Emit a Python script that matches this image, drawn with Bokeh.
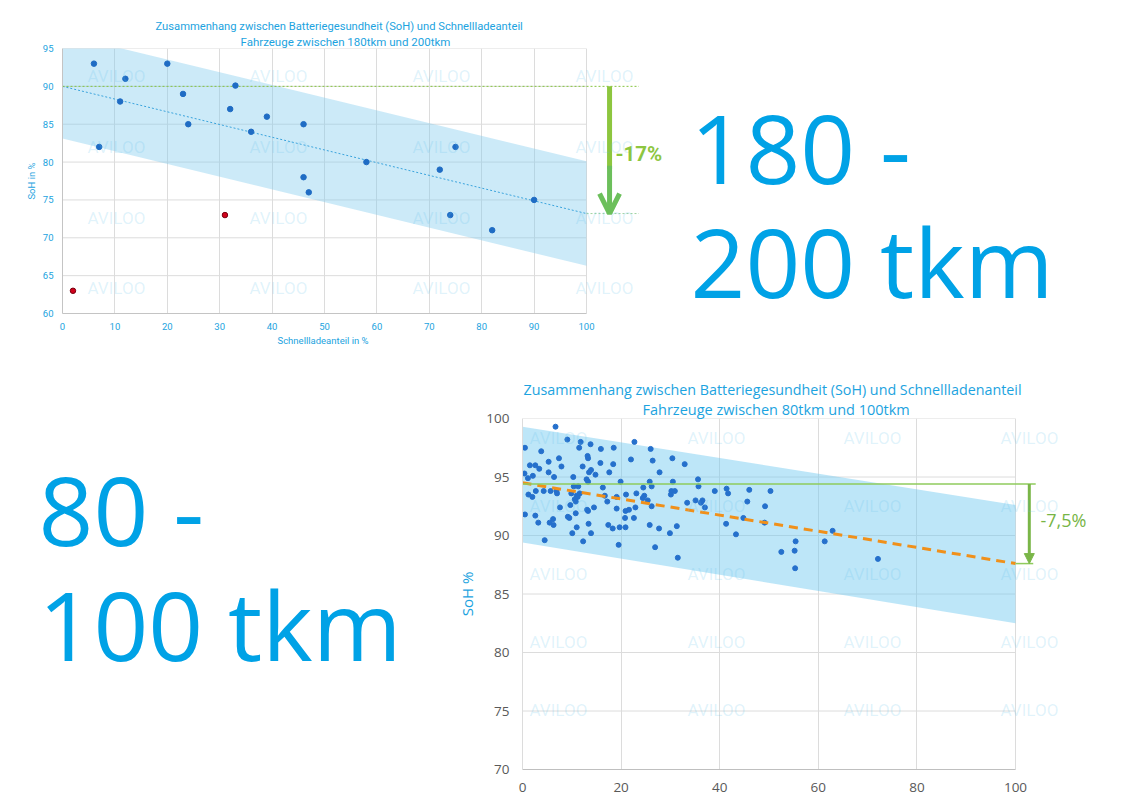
from bokeh.plotting import figure
from bokeh.layouts import row
from bokeh.models import FixedTicker, Label, Arrow, OpenHead, NormalHead, Range1d, Title
from bokeh.embed import file_html
from bokeh.resources import INLINE
from bokeh.core.properties import value

# ================= DATA: upper chart (180 - 200 tkm) =================
top_title = ["Zusammenhang zwischen Batteriegesundheit (SoH) und Schnellladeanteil",
             "Fahrzeuge zwischen 180tkm und 200tkm"]
top_fast_share = [6, 12, 20, 11, 23, 24, 33, 32, 36, 39, 46, 7, 46, 47, 58, 72, 75, 74, 82, 90]
top_soh = [93, 91, 93, 88, 89, 85, 90.1, 87, 84, 86, 85, 82, 78, 76, 80, 79, 82, 73, 71, 75]
top_out_share = [31, 2]
top_out_soh = [73, 63]
top_trend_x = [0, 100]
top_trend_soh = [90.0, 73.2]
top_band_upper = [96.9, 80.1]
top_band_lower = [83.1, 66.3]
top_drop_label = "-17%"
top_xticks = [0, 10, 20, 30, 40, 50, 60, 70, 80, 90, 100]
top_yticks = [60, 65, 70, 75, 80, 85, 90, 95]
top_xlabel = "Schnellladeanteil in %"
top_ylabel = "SoH in %"
top_big = ["180 -", "200 tkm"]

# ================= DATA: lower chart (80 - 100 tkm) =================
bot_title = ["Zusammenhang zwischen Batteriegesundheit (SoH) und Schnellladenanteil",
             "Fahrzeuge zwischen 80tkm und 100tkm"]
bot_fast_share = [6.7, 9.1, 11.8, 11.5, 13.8, 0.5, 3.8, 7.4, 13.2, 13.3,
                  15.9, 18.5, 22.7, 26.0, 22.0, 26.4, 30.4, 32.9, 5.3, 1.5,
                  2.6, 3.4, 7.9, 12.2, 13.5, 13.9, 14.8, 18.4, 15.8, 17.6,
                  27.8, 0.4, 1.1, 2.1, 5.3, 6.4, 10.3, 13.0, 13.3, 19.9,
                  25.8, 30.5, 26.2, 10.4, 11.3, 16.3, 24.5, 1.2, 2.0, 2.7,
                  4.3, 5.7, 6.9, 7.0, 9.9, 11.0, 10.6, 11.2, 10.8, 11.6,
                  16.7, 19.1, 21.0, 23.1, 24.7, 24.4, 25.4, 30.2, 30.9, 30.1,
                  17.2, 14.5, 13.1, 13.3, 9.7, 7.6, 19.1, 20.9, 21.6, 22.9,
                  26.2, 0.5, 2.6, 3.2, 6.2, 5.5, 6.3, 9.2, 9.5, 10.8,
                  13.4, 17.4, 18.3, 19.7, 20.9, 20.8, 22.6, 25.8, 27.7, 31.3,
                  10.1, 11.0, 13.9, 29.9, 4.5, 12.3, 19.5, 26.9, 31.5,
                  35.6, 35.7, 39.0, 41.4, 41.7, 46.0, 50.3, 33.4, 35.1, 36.2,
                  36.5, 37.0, 45.6, 49.2, 44.8, 41.3, 49.1, 43.3, 55.4, 52.5,
                  55.2, 55.3, 61.3, 62.9, 72.1]
bot_soh = [99.3, 98.2, 98.0, 97.5, 97.8, 97.5, 97.2, 96.6, 96.8, 96.6,
           97.4, 97.5, 98.0, 97.4, 96.5, 96.4, 96.6, 96.1, 96.3, 96.0,
           96.0, 95.7, 95.9, 95.9, 95.4, 95.6, 95.2, 96.1, 96.2, 95.4,
           95.4, 95.3, 94.9, 95.1, 95.4, 95.0, 95.0, 94.8, 94.6, 94.6,
           94.6, 94.6, 94.2, 94.2, 94.2, 94.1, 94.1, 93.5, 93.3, 93.8,
           93.8, 93.8, 93.8, 93.6, 93.6, 93.4, 93.1, 93.3, 92.9, 93.6,
           93.4, 93.3, 93.5, 93.6, 93.4, 93.2, 93.0, 93.8, 93.8, 93.5,
           92.9, 92.4, 92.2, 92.1, 92.6, 92.4, 92.3, 92.1, 92.2, 92.4,
           92.5, 91.8, 91.7, 91.1, 91.4, 91.1, 90.9, 91.6, 91.5, 91.9,
           91.0, 90.9, 90.6, 90.7, 90.7, 91.5, 91.5, 90.9, 90.6, 90.8,
           90.2, 90.7, 90.2, 90.2, 89.6, 89.5, 89.2, 89.0, 88.1,
           94.8, 94.2, 93.8, 94.0, 93.6, 93.9, 93.8, 92.8, 93.0, 92.8,
           93.0, 92.4, 92.9, 92.5, 91.5, 91.0, 91.1, 90.1, 89.5, 88.6,
           88.7, 87.2, 89.5, 90.4, 88.0]
bot_trend_x = [0, 100]
bot_trend_soh = [94.5, 87.6]
bot_band_upper = [99.3, 92.6]
bot_band_lower = [89.4, 82.5]
bot_ref_soh = 94.4
bot_drop_label = "-7,5%"
bot_xticks = [0, 20, 40, 60, 80, 100]
bot_yticks = [70, 75, 80, 85, 90, 95, 100]
bot_ylabel = "SoH %"
bot_big = ["80 -", "100 tkm"]

watermark = "AVILOO"

# ================= STYLE / LAYOUT =================
BIG_BLUE = "#00a2e6"
T_BLUE = "#1ca3e0"
GRID = "#dcdcdc"
PAGE_W = 1105
BASE_FIX = 0.39           # alphabetic baseline correction (fraction of font size)

# upper figure (page px)
TH = 365
T_L, T_T, T_B = 62, 48, 313
T_SX = 5.24
# lower block
B_Y0 = TH
BH = 435
B_SPLIT = 450
B_L, B_T, B_B = 522, 418, 769
B_SX = 4.93


def make_conv(left, top, bottom, sx, x0, y0, y1):
    sy = (bottom - top) / float(y1 - y0)

    def conv(px, py):
        return x0 + (px - left) / sx, y1 - (py - top) / sy
    return conv


def add_text(p, conv, px, py, text, font, size, color, align="left",
             baseline="alphabetic", style="normal", alpha=1.0):
    if baseline == "alphabetic":
        py = py - BASE_FIX * size
    x, y = conv(px, py)
    p.add_layout(Label(x=x, y=y, text=text, text_font=font, text_font_size="%gpx" % size,
                       text_color=color, text_align=align, text_baseline=baseline,
                       text_font_style=style, text_alpha=alpha))


def style_fig(p):
    p.outline_line_color = None
    p.background_fill_color = "white"
    p.border_fill_color = "white"
    p.ygrid.visible = False
    for ax in (p.xaxis, p.yaxis):
        ax.major_tick_line_color = None
        ax.minor_tick_line_color = None
        ax.axis_label_text_font_style = "normal"


# ---------------- upper figure ----------------
p1 = figure(width=PAGE_W, height=TH,
            x_range=Range1d(0, (PAGE_W - T_L) / T_SX), y_range=Range1d(60, 95),
            output_backend="svg", toolbar_location=None,
            min_border_left=T_L, min_border_right=0, min_border_top=T_T,
            min_border_bottom=TH - T_B)
style_fig(p1)
p1.xaxis.ticker = FixedTicker(ticks=top_xticks)
p1.yaxis.ticker = FixedTicker(ticks=top_yticks)
p1.xaxis.bounds = (top_xticks[0], top_xticks[-1])
p1.xgrid.ticker = FixedTicker(ticks=top_xticks)
p1.xgrid.grid_line_color = GRID
for ax in (p1.xaxis, p1.yaxis):
    ax.axis_line_color = "#c4c4c4"
    ax.major_label_text_font = "Roboto"
    ax.major_label_text_font_size = "9.5px"
    ax.major_label_text_color = T_BLUE
p1.xaxis.major_label_standoff = 3
p1.yaxis.major_label_standoff = 3
p1.yaxis.axis_label = top_ylabel
p1.yaxis.axis_label_text_font = "Roboto"
p1.yaxis.axis_label_text_font_size = "9.5px"
p1.yaxis.axis_label_text_color = T_BLUE
p1.yaxis.axis_label_standoff = 3
p1.add_layout(Title(text=top_xlabel, align="left", offset=277 - T_L, standoff=1,
                    text_font="Roboto", text_font_size="9.5px", text_color=T_BLUE,
                    text_font_style="normal"), "below")
p1.add_layout(Title(text=top_title[1], align="left", offset=240 - T_L, standoff=0,
                    text_font="Roboto", text_font_size="11.5px", text_color=T_BLUE,
                    text_font_style="normal"), "above")
p1.add_layout(Title(text=top_title[0], align="left", offset=155 - T_L, standoff=0,
                    text_font="Roboto", text_font_size="11.2px", text_color=T_BLUE,
                    text_font_style="normal"), "above")

p1.segment(x0=[top_xticks[0]] * len(top_yticks), x1=[top_xticks[-1]] * len(top_yticks),
           y0=top_yticks, y1=top_yticks, line_color=GRID, line_width=1)
p1.varea(x=top_trend_x, y1=top_band_lower, y2=top_band_upper,
         fill_color="#7fcaee", fill_alpha=0.4)
p1.line(top_trend_x, top_trend_soh, line_color="#3aa3dc", line_width=1, line_dash="2 2")
p1.line([0, 110], [top_trend_soh[0]] * 2, line_color="#86c440", line_width=1, line_dash="2 2")
p1.line([100, 110], [top_trend_soh[1]] * 2, line_color="#9fd3a0", line_width=1, line_dash="2 2")
p1.scatter(top_fast_share, top_soh, size=5.5, fill_color="#1f6cc4", line_color="#1f6cc4")
p1.scatter(top_out_share, top_out_soh, size=5.5, fill_color="#d0021b", line_color="#7a0010")

arrow_x1 = 104.4
p1.line([arrow_x1, arrow_x1], [top_trend_soh[0], 79.1], line_color="#8dc63f", line_width=5)
p1.add_layout(Arrow(end=OpenHead(line_color="#6cbf5b", line_width=5, size=20),
                    x_start=arrow_x1, y_start=79.5, x_end=arrow_x1, y_end=top_trend_soh[1],
                    line_color="#6cbf5b", line_width=5))

c1 = make_conv(T_L, T_T, T_B, T_SX, 0, 60, 95)
for py in (75, 146, 217, 287):
    for px in (87, 249, 412, 575):
        add_text(p1, c1, px, py, watermark, "Roboto", 17, "#5fbfea",
                 baseline="middle", alpha=0.2)
add_text(p1, c1, 615, 161, top_drop_label, "Roboto", 20.5, "#8dc63f", style="bold")
add_text(p1, c1, 690, 183, top_big[0], "Open Sans", 96, BIG_BLUE)
add_text(p1, c1, 690, 297, top_big[1], "Open Sans", 96, BIG_BLUE)

# ---------------- lower block: text panel ----------------
fr_top = B_T - B_Y0
fr_bot = B_Y0 + BH - B_B
pt = figure(width=B_SPLIT, height=BH, x_range=Range1d(0, B_SPLIT),
            y_range=Range1d(B_B, B_T), output_backend="svg", toolbar_location=None,
            x_axis_location=None, y_axis_location=None,
            min_border_left=0, min_border_right=0, min_border_top=fr_top,
            min_border_bottom=fr_bot)
pt.outline_line_color = None
pt.grid.visible = False
pt.background_fill_color = "white"
pt.border_fill_color = "white"
big_size = 96
pt.text(x=[38, 38], y=[545 - BASE_FIX * big_size, 660 - BASE_FIX * big_size], text=bot_big,
        text_font=value("Open Sans"), text_font_size="%dpx" % big_size,
        text_color=BIG_BLUE, text_baseline="alphabetic")

# ---------------- lower chart ----------------
p2w = PAGE_W - B_SPLIT
p2l = B_L - B_SPLIT
p2 = figure(width=p2w, height=BH,
            x_range=Range1d(0, (p2w - p2l) / B_SX), y_range=Range1d(70, 100),
            output_backend="svg", toolbar_location=None,
            min_border_left=p2l, min_border_right=0, min_border_top=fr_top,
            min_border_bottom=fr_bot)
style_fig(p2)
p2.xaxis.ticker = FixedTicker(ticks=bot_xticks)
p2.yaxis.ticker = FixedTicker(ticks=bot_yticks)
p2.xaxis.bounds = (bot_xticks[0], bot_xticks[-1])
p2.xgrid.ticker = FixedTicker(ticks=bot_xticks)
p2.xgrid.grid_line_color = GRID
for ax in (p2.xaxis, p2.yaxis):
    ax.major_label_text_font = "Open Sans"
    ax.major_label_text_font_size = "13.5px"
    ax.major_label_text_color = "#595959"
p2.xaxis.axis_line_color = "#bfbfbf"
p2.yaxis.axis_line_color = GRID
p2.xaxis.major_label_standoff = 7
p2.yaxis.major_label_standoff = 7
p2.yaxis.axis_label = bot_ylabel
p2.yaxis.axis_label_text_font = "Open Sans"
p2.yaxis.axis_label_text_font_size = "15px"
p2.yaxis.axis_label_text_color = T_BLUE
p2.yaxis.axis_label_standoff = 6
p2.add_layout(Title(text=bot_title[1], align="left", offset=642 - B_L, standoff=0,
                    text_font="Open Sans", text_font_size="14.5px", text_color=T_BLUE,
                    text_font_style="normal"), "above")
p2.add_layout(Title(text=bot_title[0], align="left", offset=523 - B_L, standoff=-3,
                    text_font="Open Sans", text_font_size="14.3px", text_color=T_BLUE,
                    text_font_style="normal"), "above")

p2.segment(x0=[bot_xticks[0]] * len(bot_yticks), x1=[bot_xticks[-1]] * len(bot_yticks),
           y0=bot_yticks, y1=bot_yticks, line_color=GRID, line_width=1)
p2.varea(x=bot_trend_x, y1=bot_band_lower, y2=bot_band_upper,
         fill_color="#6cc8ef", fill_alpha=0.45)
p2.scatter(bot_fast_share, bot_soh, size=5, fill_color="#2570cc", line_color="#2570cc")
p2.line(bot_trend_x, bot_trend_soh, line_color="#f0901a", line_width=3, line_dash="9 6")
p2.line([0, 104.1], [bot_ref_soh] * 2, line_color="#8fcb5c", line_width=1.5)
p2.line([100, 103.6], [bot_trend_soh[1]] * 2, line_color="#8fcb5c", line_width=1.5)
arrow_x2 = 102.8
p2.add_layout(Arrow(end=NormalHead(fill_color="#7ab648", line_color="#7ab648", size=10),
                    x_start=arrow_x2, y_start=bot_ref_soh, x_end=arrow_x2, y_end=bot_trend_soh[1],
                    line_color="#7ab648", line_width=3))

c2 = make_conv(B_L, B_T, B_B, B_SX, 0, 70, 100)
for py in (437, 505, 573, 641, 709):
    for px in (529, 687, 843, 1000):
        add_text(p2, c2, px, py, watermark, "Roboto", 17, "#5fbfea",
                 baseline="middle", alpha=0.2)
add_text(p2, c2, 1040, 527, bot_drop_label, "Open Sans", 18, "#77b546")

lower = row(pt, p2, spacing=0)
open("out.html", "w").write(file_html([p1, lower], INLINE))
